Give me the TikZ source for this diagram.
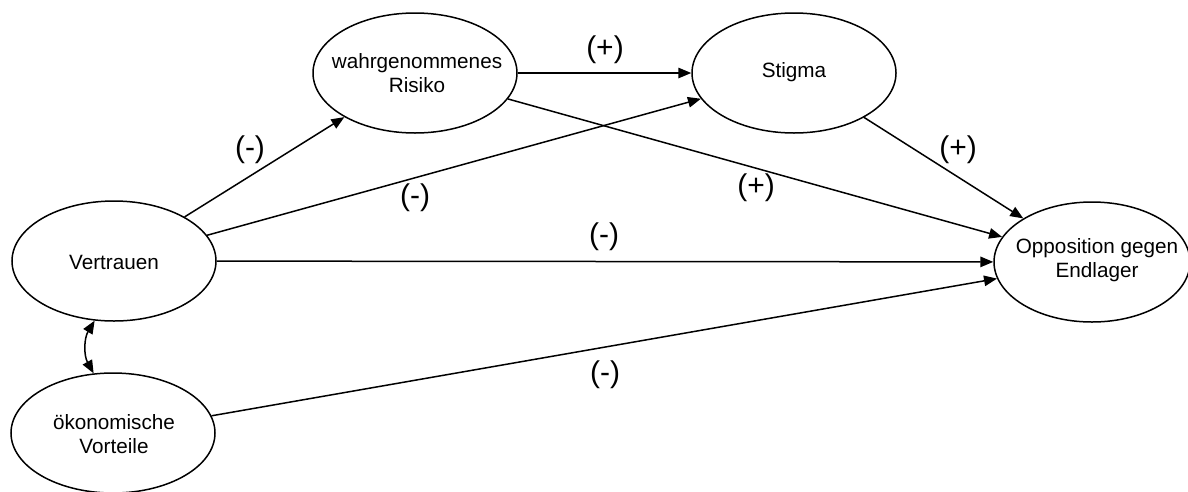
\documentclass[tikz,border=0pt]{standalone}
\usepackage{fontspec}
\setmainfont{Liberation Sans}
\usetikzlibrary{shapes.geometric,arrows.meta}
\tikzset{
  ell/.style={draw, ellipse, line width=1.5pt, inner sep=0pt, minimum width=204pt, minimum height=120pt},
  txt/.style={align=center, inner sep=0pt, font=\fontsize{20.7}{24.5}\selectfont},
  lbl/.style={inner sep=0pt, font=\fontsize{30}{36}\selectfont},
  conn/.style={line width=1.5pt, -{Triangle[length=13pt,width=10.5pt]}},
  biconn/.style={line width=1.5pt, {Triangle[length=13pt,width=10.5pt]}-{Triangle[length=13pt,width=10.5pt]}}
}
\begin{document}
\begin{tikzpicture}[x=1pt,y=-1pt]
\useasboundingbox (0,0) rectangle (1188,491);
\node[ell] (ver) at (114,261) {};
\node[ell] (oek) at (113,433) {};
\node[ell] (ris) at (415,73) {};
\node[ell] (sti) at (794,73) {};
\node[ell, minimum width=196pt] (opp) at (1092,262) {};
\node[txt] (ver-t) at (114,262) {Vertrauen};
\node[txt] (oek-t) at (114,434) {ökonomische\\Vorteile};
\node[txt] (ris-t) at (417,73) {wahrgenommenes\\Risiko};
\node[txt] (sti-t) at (794,72) {Stigma};
\node[txt] (opp-t) at (1097,260) {Opposition gegen\\Endlager};
\draw[conn] (ver) -- (ris);
\draw[conn] (ver) -- (sti);
\draw[conn] (ver) -- (opp);
\draw[conn] (ris) -- (sti);
\draw[conn] (ris) -- (opp);
\draw[conn] (sti) -- (opp);
\draw[conn] (oek) -- (opp);
\draw[biconn] (ver.252) to[bend right=30] (oek.108);
\node[lbl] (l1) at (605,50) {(+)};
\node[lbl] (l2) at (250,150) {(-)};
\node[lbl] (l3) at (415,198) {(-)};
\node[lbl] (l4) at (604,237) {(-)};
\node[lbl] (l5) at (756,188) {(+)};
\node[lbl] (l6) at (958,150) {(+)};
\node[lbl] (l7) at (605,375) {(-)};
\end{tikzpicture}
\end{document}
